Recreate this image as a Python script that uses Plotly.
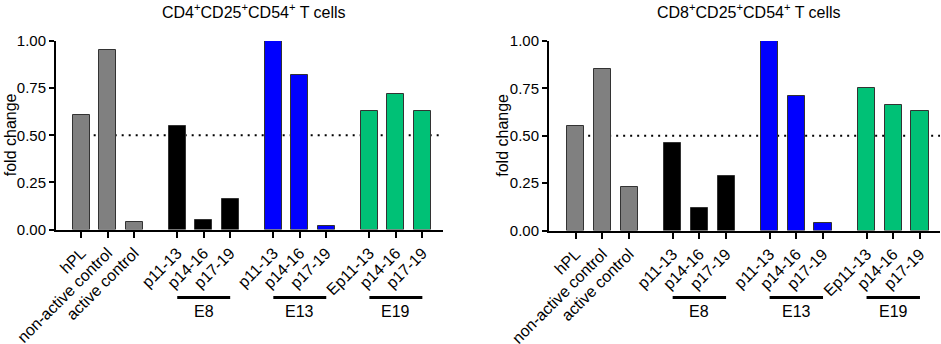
import plotly.graph_objects as go

categories = ["hPL", "non-active control", "active control",
              "p11-13", "p14-16", "p17-19",
              "p11-13", "p14-16", "p17-19",
              "Ep11-13", "p14-16", "p17-19"]
groups = ["ctrl", "ctrl", "ctrl", "E8", "E8", "E8", "E13", "E13", "E13", "E19", "E19", "E19"]
cd4_values = [0.61, 0.95, 0.04, 0.55, 0.05, 0.16, 1.00, 0.82, 0.02, 0.63, 0.72, 0.63]
cd8_values = [0.55, 0.85, 0.23, 0.46, 0.12, 0.29, 1.00, 0.71, 0.04, 0.75, 0.66, 0.63]
group_labels = ["E8", "E13", "E19"]
titles = ["CD4<sup>+</sup>CD25<sup>+</sup>CD54<sup>+</sup> T cells",
          "CD8<sup>+</sup>CD25<sup>+</sup>CD54<sup>+</sup> T cells"]
y_ticks = [0, 0.25, 0.5, 0.75, 1.0]
y_tick_text = ["0.00", "0.25", "0.50", "0.75", "1.00"]

group_colors = {"ctrl": "#808080", "E8": "#000000", "E13": "#0000FF", "E19": "#00C176"}
GAP = 1.63
xpos = []
for i, g in enumerate(groups):
    gi = i // 3
    xpos.append(gi * (2 + GAP) + (i % 3))

FONT = "Liberation Sans, Arial, sans-serif"
FS = 16
W, H = 941, 344
fig = go.Figure()

panels = [
    dict(vals=cd4_values, x0=56, x1=443, y0=229.5, y1=41, lpad=0.95, rpad=0.78, title=titles[0], ylab_x=10),
    dict(vals=cd8_values, x0=549, x1=940, y0=230.5, y1=41, lpad=1.0, rpad=0.75, title=titles[1], ylab_x=503),
]


def px(v):
    return v / W


def py(v):
    return (H - v) / H


for k, p in enumerate(panels):
    xa = "x" if k == 0 else "x2"
    ya = "y" if k == 0 else "y2"
    fig.add_trace(go.Bar(
        x=xpos, y=p["vals"], width=0.64,
        marker=dict(color=[group_colors[g] for g in groups],
                    line=dict(color="#333333", width=1)),
        xaxis=xa, yaxis=ya, showlegend=False, hoverinfo="skip"))
    xr = [xpos[0] - p["lpad"], xpos[-1] + p["rpad"]]
    dom_x = [px(p["x0"]), px(p["x1"])]
    dom_y = [py(p["y0"]), py(p["y1"])]
    axis_common = dict(showline=True, linecolor="black", linewidth=2, ticks="outside",
                       tickcolor="black", tickwidth=2, showgrid=False, zeroline=False,
                       automargin=False)
    fig.layout["xaxis" + ("" if k == 0 else "2")] = dict(
        domain=dom_x, range=xr, tickmode="array", tickvals=xpos, ticktext=categories,
        tickangle=-45, anchor=ya, ticklen=6,
        tickfont=dict(family=FONT, size=FS, color="black"), **axis_common)
    fig.layout["yaxis" + ("" if k == 0 else "2")] = dict(
        domain=dom_y, range=[0, 1.0], tickmode="array", tickvals=y_ticks, ticktext=y_tick_text,
        anchor=xa, ticklen=5,
        tickfont=dict(family=FONT, size=15, color="black"), **axis_common)
    # y-axis title
    fig.add_annotation(text="fold change", xref="paper", yref="paper",
                       x=px(p["ylab_x"]), y=py((p["y0"] + p["y1"]) / 2), textangle=-90,
                       showarrow=False, xanchor="center", yanchor="middle",
                       font=dict(family=FONT, size=FS, color="black"))
    # dotted reference line
    fig.add_shape(type="line", xref=xa, yref=ya, x0=xpos[0] - 0.32, x1=xr[1], y0=0.5, y1=0.5,
                  line=dict(color="black", width=2, dash="2px,5px"), layer="below")
    # title
    fig.add_annotation(text=p["title"], xref="paper", yref="paper",
                       x=px((p["x0"] + p["x1"]) / 2 + 4), y=py(11), showarrow=False,
                       xanchor="center", yanchor="middle",
                       font=dict(family=FONT, size=FS, color="black"))
    # group brackets
    for gi, lab in enumerate(group_labels):
        xs = xpos[3 + gi * 3: 6 + gi * 3]
        fig.add_shape(type="line", xref=xa, yref="paper", x0=xs[0], x1=xs[-1],
                      y0=py(297.5), y1=py(297.5), line=dict(color="black", width=3))
        fig.add_annotation(text=lab, xref=xa, yref="paper", x=xs[1], y=py(311),
                           showarrow=False, xanchor="center", yanchor="middle",
                           font=dict(family=FONT, size=FS, color="black"))

fig.update_layout(width=W, height=H, margin=dict(l=0, r=0, t=0, b=0),
                  plot_bgcolor="white", paper_bgcolor="white", bargap=0)
fig.write_html("out.html", config={"displayModeBar": False},
               post_script="document.body.style.margin='0';document.body.style.overflow='hidden';")
